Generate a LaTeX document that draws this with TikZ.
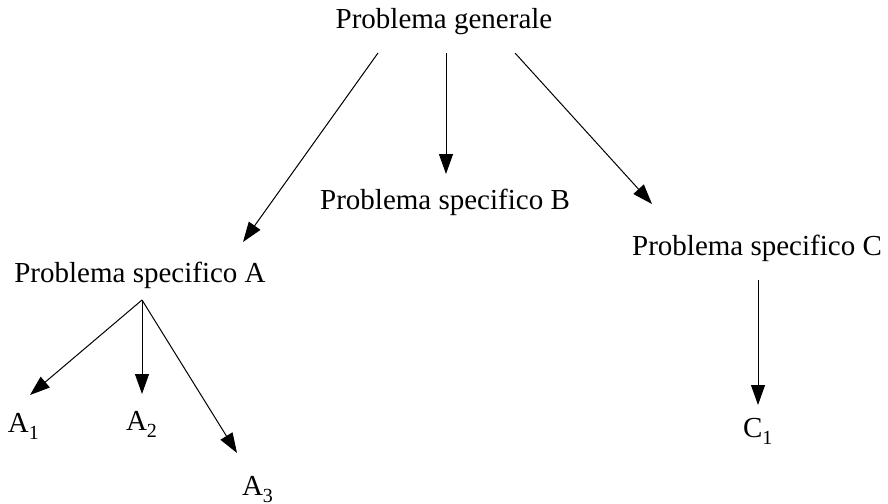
\documentclass[tikz,border=0pt]{standalone}
\usepackage{fontspec}
\setmainfont{Liberation Serif}
\usetikzlibrary{arrows.meta}
\newcommand\subidx[1]{{\fontsize{20}{20}\selectfont\raisebox{-7pt}{#1}}}
\tikzset{
  lbl/.style={inner sep=0pt, outer sep=0pt, font=\fontsize{29}{34}\selectfont},
  arr/.style={line width=1pt, -{Triangle[length=20pt,width=14pt]}}
}
\begin{document}
\begin{tikzpicture}[x=1pt,y=-1pt]
\useasboundingbox (0,0) rectangle (888,503);
% labels
\node[lbl, anchor=base] (gen) at (444,29) {Problema generale};
\node[lbl, anchor=base] (pB) at (445,209) {Problema specifico B};
\node[lbl, anchor=base] (pC) at (757,255) {Problema specifico C};
\node[lbl, anchor=base] (pA) at (140,282) {Problema specifico A};
\node[lbl, anchor=base west] (a1) at (8,432) {A\subidx{1}};
\node[lbl, anchor=base west] (a2) at (126,430) {A\subidx{2}};
\node[lbl, anchor=base west] (a3) at (242,495) {A\subidx{3}};
\node[lbl, anchor=base west] (c1) at (743,437) {C\subidx{1}};
% connector end points
\coordinate (gL) at (378,53);
\coordinate (gM) at (446,53);
\coordinate (gR) at (515,53);
\coordinate (tA) at (243,242);
\coordinate (tB) at (446,174);
\coordinate (tC) at (652,204);
\coordinate (aO) at (142,300);
\coordinate (t1) at (30,395);
\coordinate (t2) at (142,394);
\coordinate (t3) at (237,453);
\coordinate (cO) at (758,280);
\coordinate (tc1) at (758,405);
% connectors
\draw[arr] (gL) -- (tA);
\draw[arr] (gM) -- (tB);
\draw[arr] (gR) -- (tC);
\draw[arr] (aO) -- (t1);
\draw[arr] (aO) -- (t2);
\draw[arr] (aO) -- (t3);
\draw[arr] (cO) -- (tc1);
\end{tikzpicture}
\end{document}
